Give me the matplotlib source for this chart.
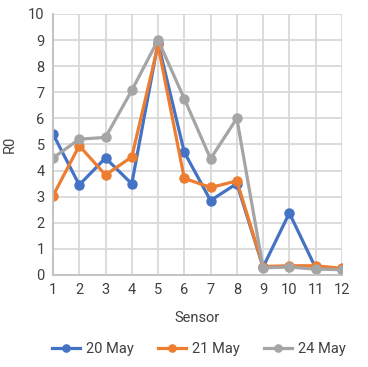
import matplotlib
matplotlib.use('Agg')
import matplotlib.pyplot as plt

# data
sensors = [1, 2, 3, 4, 5, 6, 7, 8, 9, 10, 11, 12]
may20 = [5.4, 3.45, 4.48, 3.49, 8.9, 4.7, 2.85, 3.5, 0.3, 2.37, 0.27, 0.22]
may21 = [3.03, 4.95, 3.83, 4.52, 8.8, 3.7, 3.35, 3.6, 0.32, 0.35, 0.35, 0.25]
may24 = [4.48, 5.2, 5.27, 7.07, 9.0, 6.75, 4.45, 6.0, 0.27, 0.3, 0.22, 0.2]
labels = ['20 May', '21 May', '24 May']
colors = ['#4472C4', '#ED7D31', '#A5A5A5']

plt.rcParams['font.family'] = ['Roboto', 'DejaVu Sans']
txt = '#404040'

fig = plt.figure(figsize=(3.68, 3.67), dpi=100)
ax = fig.add_axes([0.144, 0.251, 0.785, 0.711])

for ys, lab, col in zip([may20, may21, may24], labels, colors):
    ax.plot(sensors, ys, color=col, lw=2.3, marker='o', ms=6.5, label=lab)

ax.set_xlim(1, 12)
ax.set_ylim(0, 10)
ax.set_xticks(sensors)
ax.set_yticks(range(0, 11))
ax.grid(True, color='#d9d9d9', lw=1.3)
ax.set_axisbelow(True)
for s in ['top', 'right']:
    ax.spines[s].set_visible(False)
for s in ['left', 'bottom']:
    ax.spines[s].set_color('#bfbfbf')
    ax.spines[s].set_linewidth(1.3)
ax.tick_params(length=0, labelsize=10.5, labelcolor=txt, pad=6)
ax.set_xlabel('Sensor', fontsize=10.5, color=txt, labelpad=10)
ax.set_ylabel('R0', fontsize=10.5, color=txt, labelpad=8)

fig.legend(loc='lower center', ncol=3, frameon=False, fontsize=10.5,
           bbox_to_anchor=(0.54, -0.005), handlelength=1.9, handletextpad=0.4,
           columnspacing=1.7, markerscale=0.8, labelcolor=txt)

fig.savefig('out.png', dpi=100)
